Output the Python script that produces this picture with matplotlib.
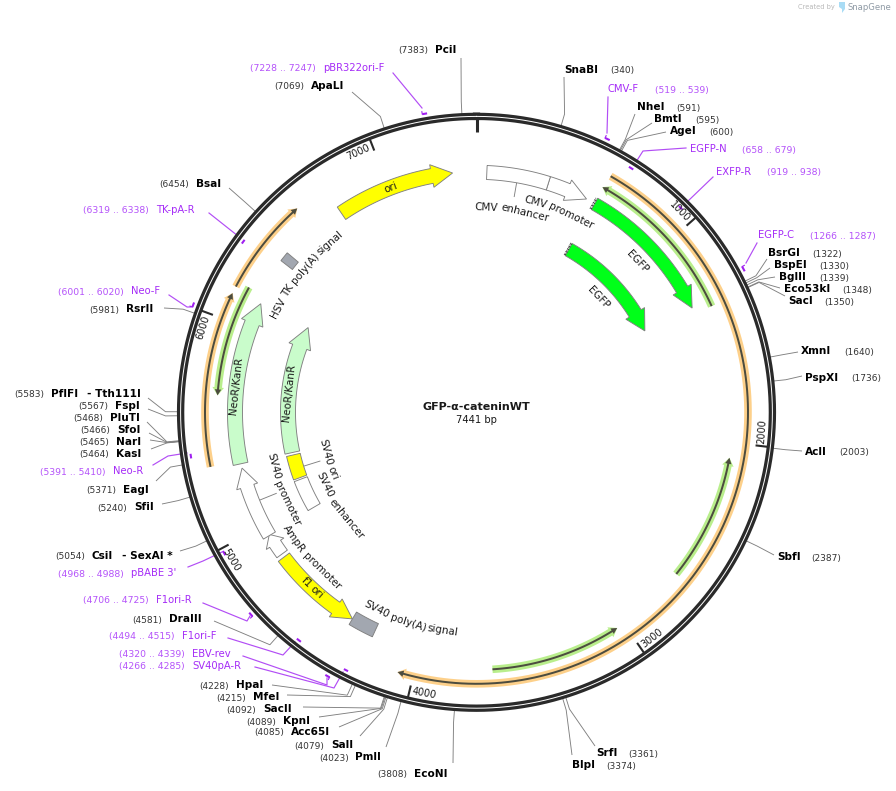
import numpy as np
import matplotlib
matplotlib.use("Agg")
import matplotlib.pyplot as plt
from matplotlib.textpath import TextPath
from matplotlib.font_manager import FontProperties

total_bp = 7441

# restriction sites
site_names = ["PciI", "SnaBI", "NheI", "BmtI", "AgeI", "BsrGI", "BspEI", "BglII", "Eco53kI", "SacI",
              "XmnI", "PspXI", "AclI", "SbfI", "SrfI", "BlpI", "EcoNI", "PmlI", "SalI", "Acc65I",
              "KpnI", "SacII", "MfeI", "HpaI", "DraIII", "SfiI", "EagI", "KasI", "NarI", "SfoI",
              "PluTI", "FspI", "PflFI", "RsrII", "BsaI", "ApaLI", "CsiI"]
site_bp = [7383, 340, 591, 595, 600, 1322, 1330, 1339, 1348, 1350,
           1640, 1736, 2003, 2387, 3361, 3374, 3808, 4023, 4079, 4085,
           4089, 4092, 4215, 4228, 4581, 5240, 5371, 5464, 5465, 5466,
           5468, 5567, 5583, 5981, 6454, 7069, 5054]
# name x, number x, text y, leader end x, leader end y
site_name_x = [435, 564, 637, 654, 670, 768, 774, 779, 784, 788,
               801, 805, 805, 777, 596, 572, 414, 355, 331, 291,
               283, 263, 253, 236, 169, 134, 123, 116, 116, 117,
               110, 115, 51, 126, 196, 311, 92]
site_num_x = [398, 610, 676, 695, 709, 812, 819, 819, 842, 824,
              844, 851, 839, 811, 628, 606, 377, 319, 294, 254,
              246, 226, 216, 199, 132, 97, 86, 79, 79, 80,
              73, 78, 14, 89, 159, 274, 55]
site_y = [50, 70, 107, 119, 131, 253, 265, 277, 289, 301,
          351, 378, 452, 557, 753, 765, 774, 757, 745, 732,
          721, 709, 697, 685, 619, 507, 490, 454, 442, 430,
          418, 406, 394, 309, 184, 86, 556]
lead_x = [461, 564, 635, 652, 666, 767, 770, 775, 780, 785,
          798, 802, 802, 774, 595, 572, 453, 386, 360, 339,
          319, 303, 287, 272, 214, 162, 156, 151, 150, 149,
          147, 148, 148, 164, 229, 352, 180]
lead_y = [58, 77, 114, 123, 132, 259, 268, 277, 288, 296,
          352, 376, 451, 555, 746, 755, 763, 747, 736, 727,
          717, 707, 695, 685, 621, 504, 481, 449, 440, 433,
          422, 409, 398, 308, 188, 92, 551]

# primers
primer_names = ["CMV-F", "EGFP-N", "EXFP-R", "EGFP-C", "pBR322ori-F", "TK-pA-R", "Neo-F", "Neo-R",
                "pBABE 3'", "F1ori-R", "F1ori-F", "EBV-rev", "SV40pA-R"]
primer_start = [519, 658, 919, 1266, 7228, 6319, 6001, 5391, 4968, 4706, 4494, 4320, 4266]
primer_end = [539, 679, 938, 1287, 7247, 6338, 6020, 5410, 4988, 4725, 4515, 4339, 4285]
primer_strand = [1, -1, -1, 1, 1, -1, 1, -1, -1, 1, -1, 1, -1]
primer_name_x = [608, 690, 716, 758, 323, 156, 131, 113, 131, 156, 182, 192, 192]
primer_range_x = [655, 742, 767, 810, 250, 83, 58, 40, 58, 83, 109, 119, 119]
primer_y = [89, 149, 172, 235, 68, 210, 291, 471, 573, 600, 636, 654, 666]
primer_leads = [
    [(608, 97), (607, 133)],
    [(686, 148), (643, 151), (636, 162)],
    [(713, 177), (687, 202)],
    [(757, 243), (746, 263)],
    [(393, 73), (422, 108)],
    [(209, 213), (238, 236)],
    [(169, 295), (187, 307), (191, 307)],
    [(153, 465), (168, 456), (187, 453)],
    [(188, 567), (203, 561), (222, 552)],
    [(203, 603), (247, 621), (250, 616)],
    [(228, 638), (283, 655), (295, 642)],
    [(243, 656), (327, 685), (327, 678)],
    [(255, 667), (334, 688), (343, 672)],
]

# features: tail and tip in bp, radial track
arrow_names = ["CMV promoter", "EGFP", "EGFP", "ori", "f1 ori", "AmpR promoter", "SV40 promoter", "NeoR/KanR", "NeoR/KanR"]
arrow_tail = [360, 610, 610, 6735, 4817, 4835, 4945, 5326, 5326]
arrow_tip = [564, 1327, 1327, 7323, 4361, 4950, 5304, 6133, 6133]
arrow_r0 = [233, 233, 180, 233, 234, 234, 234, 234, 181]
arrow_r1 = [247, 246, 194, 248, 248, 247, 248, 249, 196]
arrow_head = [21, 21, 20, 21, 20, 11, 19, 21, 21]
arrow_colors = ["white", "#00ff19", "#00ff19", "#ffff00", "#ffff00", "white", "white", "#c9fccb", "#c9fccb"]

box_names = ["CMV enhancer", "SV40 ori", "SV40 enhancer", "SV40 poly(A) signal", "HSV TK poly(A) signal"]
box_start = [51, 5161, 4955, 4235, 6362]
box_end = [360, 5310, 5150, 4361, 6410]
box_r0 = [233, 181, 181, 233, 233]
box_r1 = [247, 195, 195, 247.5, 247.5]
box_colors = ["white", "#ffff00", "white", "#a2a7b0", "#a2a7b0"]

# thin translated regions
orange_tail = [612, 5341, 6151]
orange_tip = [4070, 6119, 6587]
green_tail = [1358, 2666, 3647, 6175]
green_tip = [604, 2071, 3036, 5658]
green_r = [258, 257, 257.5, 259.5]

ticks = [1000, 2000, 3000, 4000, 5000, 6000, 7000]

# curved label: text, centre angle in degrees, radius
label_text = ["CMV enhancer", "CMV promoter", "EGFP", "EGFP", "ori", "HSV TK poly(A) signal",
              "NeoR/KanR", "NeoR/KanR", "SV40 ori", "SV40 enhancer", "SV40 promoter",
              "AmpR promoter", "f1 ori", "SV40 poly(A) signal"]
label_theta = [10, 22.3, 46.8, 46.7, 339, 309, 276.2, 275.8, 252.5, 235.5, 248.1, 228.7, 223, 197.5]
label_r = [205, 218, 220.5, 167.7, 240.6, 224, 242, 189, 156, 168, 210, 222, 240.6, 221]

cx, cy = 476.5, 412.3
gray = "#808080"
purple = "#a52cf7"
purple2 = "#b452fa"

fig = plt.figure(figsize=(8.96, 7.91), dpi=100)
ax = fig.add_axes([0, 0, 1, 1])
ax.set_xlim(0, 896)
ax.set_ylim(791, 0)
ax.axis("off")


def pol(theta, r):
    t = np.radians(theta)
    return cx + r * np.sin(t), cy - r * np.cos(t)


def ang(bp):
    return np.asarray(bp) * 360.0 / total_bp


def arc(b0, b1, r, n=120):
    return pol(np.linspace(ang(b0), ang(b1), n), r)


def box(b0, b1, r0, r1, color, z=3):
    x0, y0 = arc(b0, b1, r0)
    x1, y1 = arc(b1, b0, r1)
    ax.fill(np.r_[x0, x1], np.r_[y0, y1], fc=color, ec=gray, lw=0.65, zorder=z)


def arrow_shape(tail, tip, r0, r1, head_px, flare):
    # outline of a curved arrow from tail to tip
    rm = (r0 + r1) / 2.0
    sign = 1 if tip > tail else -1
    th = ang(tip)
    sh = th - sign * np.degrees(head_px / rm)
    t = np.linspace(ang(tail), sh, 120)
    xa, ya = pol(t, r0)
    xb, yb = pol(t[::-1], r1)
    xs = np.r_[xa, pol(sh, r0 - flare)[0], pol(th, rm)[0], pol(sh, r1 + flare)[0], xb]
    ys = np.r_[ya, pol(sh, r0 - flare)[1], pol(th, rm)[1], pol(sh, r1 + flare)[1], yb]
    return xs, ys


def thin_arrow(tail, tip, r, glow):
    x, y = arrow_shape(tail, tip, r - 3.8, r + 3.8, 8, 2)
    ax.fill(x, y, fc=glow, ec="none", zorder=2)
    x, y = arrow_shape(tail, tip, r - 1, r + 1, 6, 2.2)
    ax.fill(x, y, fc="#4c4c3f", ec="none", zorder=2.5)


def curved_text(s, theta, r, size=7.5, color="#1a1a1a"):
    # lower half reads anticlockwise so the text stays upright
    sign = -1 if 90 < theta % 360 < 270 else 1
    words = s.split(" ")
    fp_s = FontProperties(family="DejaVu Sans", size=size)
    scale = 100.0 / 72.0
    widths = [TextPath((0, 0), w, prop=fp_s).get_extents().width * scale for w in words]
    space = 0.318 * size * scale
    full = sum(widths) + space * (len(words) - 1)
    pos = -full / 2.0
    for w, wd in zip(words, widths):
        t = theta + sign * np.degrees((pos + wd / 2.0) / r)
        rot = 180 - t if sign < 0 else -t
        x, y = pol(t, r)
        ax.text(x, y, w, fontsize=size, color=color, rotation=rot, rotation_mode="anchor",
                ha="center", va="center", zorder=6)
        pos += wd + space


# site leaders
for b, lx, ly in zip(site_bp, lead_x, lead_y):
    ex, ey = pol(ang(b), 311)
    rx, ry = pol(ang(b), 298)
    ax.plot([lx, ex, rx], [ly, ey, ry], color=gray, lw=0.65, zorder=1, solid_capstyle="butt")

# ring
ring_t = np.linspace(0, 360, 721)
ax.plot(*pol(ring_t, 295.9), color="#2a2a2a", lw=5.3, zorder=4)
ax.plot(*pol(ring_t, 295.9), color="white", lw=0.7, zorder=4.1)

# ticks
x0, y0 = pol(0, 293)
x1, y1 = pol(0, 280)
ax.plot([x0, x1], [y0, y1], color="#2a2a2a", lw=2.2, zorder=4, solid_capstyle="butt")
for t in ticks:
    th = ang(t)
    x0, y0 = pol(th, 293)
    x1, y1 = pol(th, 281)
    ax.plot([x0, x1], [y0, y1], color="#2a2a2a", lw=1.5, zorder=4, solid_capstyle="butt")
    tt = th - 3.0
    tx, ty = pol(tt, 286)
    rot = 180 - tt if 90 < tt < 270 else -tt
    ax.text(tx, ty, str(t), fontsize=7.0, color="#1a1a1a", rotation=rot, rotation_mode="anchor",
            ha="center", va="center", zorder=6)

# thin arcs
for a, b in zip(orange_tail, orange_tip):
    thin_arrow(a, b, 271.5, "#fdd08a")
for a, b, r in zip(green_tail, green_tip, green_r):
    thin_arrow(a, b, r, "#b9ee8c")

# features
for name, a, b, r0, r1, h, c in zip(arrow_names, arrow_tail, arrow_tip, arrow_r0, arrow_r1, arrow_head, arrow_colors):
    x, y = arrow_shape(a, b, r0, r1, h, 4)
    ax.fill(x, y, fc=c, ec=gray, lw=0.65, zorder=3)
for b0, b1, r0, r1, c in zip(box_start, box_end, box_r0, box_r1, box_colors):
    box(b0, b1, r0, r1, c)

# EGFP 5' end comb, the features are cut there
for a, r0, r1 in [(arrow_tail[1], arrow_r0[1], arrow_r1[1]), (arrow_tail[2], arrow_r0[2], arrow_r1[2])]:
    for r in np.arange(r0 + 1, r1, 3):
        x, y = arc(a - 8, a, r, 2)
        ax.plot(x, y, color="#333333", lw=0.6, zorder=3.5)
    x, y = pol(ang(a - 8), np.array([r0, r1]))
    ax.plot(x, y, color="#333333", lw=0.6, ls=(0, (1, 1)), zorder=3.5)

# label leaders inside the map
for th, r0, r1 in [(ang(205), 233, 219), (ang(5223), 181, 164), (ang(5125), 234, 216)]:
    x, y = pol(th, np.array([r0, r1]))
    ax.plot(x, y, color=gray, lw=0.65, zorder=2)

for s, t, r in zip(label_text, label_theta, label_r):
    curved_text(s, t, r)

# primers
for i, name in enumerate(primer_names):
    s = primer_strand[i]
    r = 303 if s > 0 else 289
    x, y = arc(primer_start[i], primer_end[i], r, 10)
    ax.plot(x, y, color="#a020f0", lw=1.5, zorder=5, solid_capstyle="butt")
    if s > 0:
        hx, hy = pol(ang(primer_start[i]), np.array([r, r + 2.5]))
        ax.plot(hx, hy, color="#a020f0", lw=0.8, zorder=5)
    pts = primer_leads[i]
    ax.plot([p[0] for p in pts], [p[1] for p in pts], color="#b24df5", lw=0.85, zorder=3.9)
    ax.text(primer_name_x[i], primer_y[i], name, fontsize=7.2, color=purple, va="center", ha="left")
    ax.text(primer_range_x[i], primer_y[i] + 1, "(%d .. %d)" % (primer_start[i], primer_end[i]),
            fontsize=6.65, color=purple2, va="center", ha="left")

# site text
for name, b, nx, mx, y in zip(site_names, site_bp, site_name_x, site_num_x, site_y):
    ax.text(nx, y, name, fontsize=7.55, fontweight="bold", color="black", va="center", ha="left")
    ax.text(mx, y + 1, "(%d)" % b, fontsize=6.5, color="#333333", va="center", ha="left")

ax.text(87, 394, "- Tth111I", fontsize=7.55, fontweight="bold", color="black", va="center", ha="left")
ax.text(122, 556, "- SexAI *", fontsize=7.55, fontweight="bold", color="black", va="center", ha="left")

# centre title
ax.text(476, 407, "GFP-\u03b1-cateninWT", fontsize=8.0, fontweight="bold", color="#1a1a1a", ha="center", va="center")
ax.text(476.5, 420, "7441 bp", fontsize=7.2, color="#1a1a1a", ha="center", va="center")

# watermark
ax.text(798, 7.5, "Created by", fontsize=4.8, color="#b8b8b8", ha="left", va="center")
ax.fill([839, 845, 845, 842, 842, 839], [2, 2, 9, 13, 9, 7], fc="#a9dcf5", ec="none")
ax.text(848, 7.5, "SnapGene", fontsize=6.1, color="#8f9aa5", ha="left", va="center")

fig.savefig("out.png", dpi=100)
